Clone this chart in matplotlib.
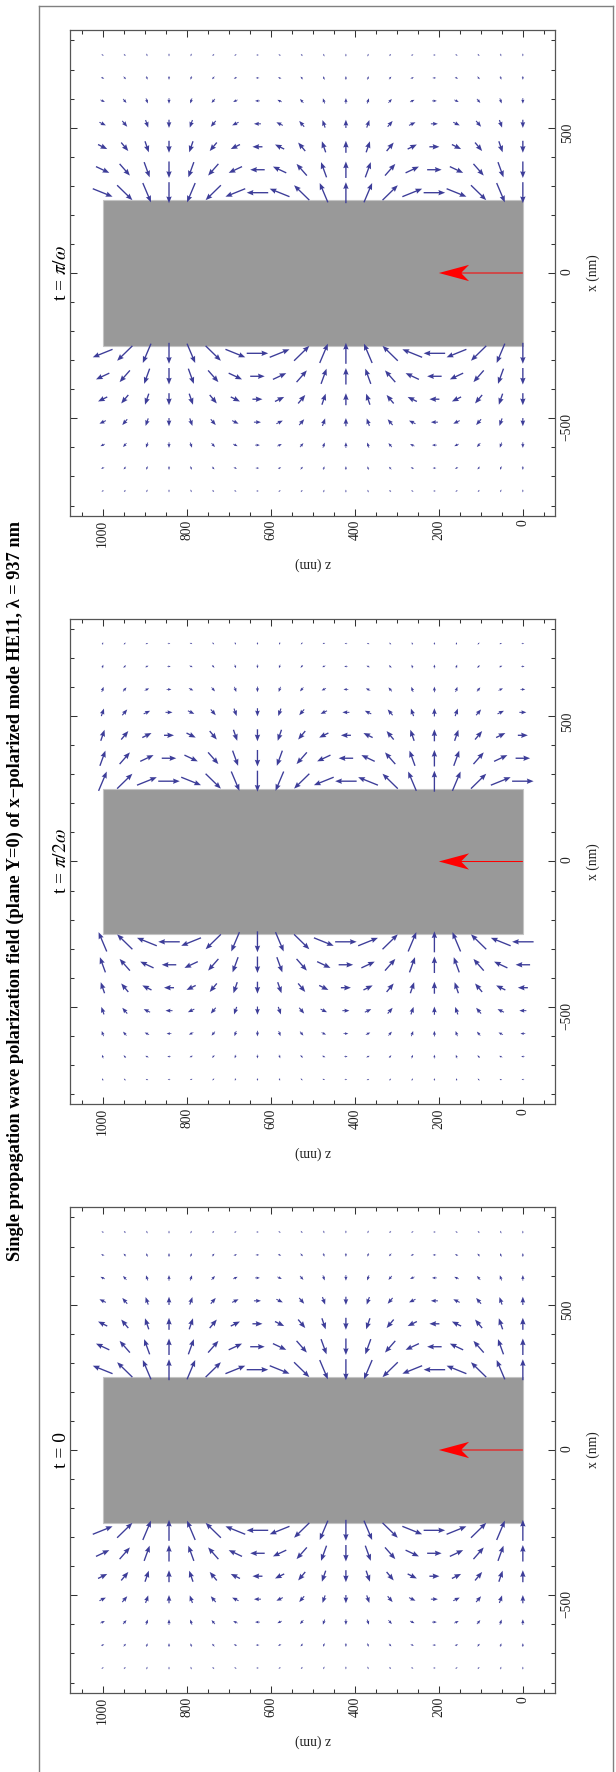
import numpy as np
import matplotlib
matplotlib.use("Agg")
import matplotlib.pyplot as plt
from matplotlib.patches import Rectangle
from matplotlib.lines import Line2D
from matplotlib.ticker import MultipleLocator

plt.rcParams['font.family'] = ['Liberation Serif', 'DejaVu Serif']
plt.rcParams['mathtext.fontset'] = 'stix'

# grid of the vector field (nm)
z_nm = [0.0, 52.6, 105.3, 157.9, 210.5, 263.2, 315.8, 368.4, 421.1, 473.7,
        526.3, 578.9, 631.6, 684.2, 736.8, 789.5, 842.1, 894.7, 947.4, 1000.0]
x_nm = [-750.0, -671.1, -592.1, -513.2, -434.2, -355.3, -276.3,
        276.3, 355.3, 434.2, 513.2, 592.1, 671.1, 750.0]

# arrow size per row (as drawn, px) for the x and z components
ex_amp = [2.8, 3.8, 5.6, 8.2, 12.0, 16.5, 21.0, 21.0, 16.5, 12.0, 8.2, 5.6, 3.8, 2.8]
ez_amp = [-2.6, -3.4, -4.8, -7.0, -10.0, -14.5, -21.5, 21.5, 14.5, 10.0, 7.0, 4.8, 3.4, 2.6]

# relative component per column, read for each time step
ex_t0 = [1.0, 0.92, 0.71, 0.38, 0.0, -0.38, -0.71, -0.92, -1.0, -0.92,
         -0.71, -0.38, 0.0, 0.38, 0.71, 0.92, 1.0, 0.92, 0.71, 0.38]
ez_t0 = [0.0, 0.38, 0.71, 0.92, 1.0, 0.92, 0.71, 0.38, 0.0, -0.38,
         -0.71, -0.92, -1.0, -0.92, -0.71, -0.38, 0.0, 0.38, 0.71, 0.92]
ex_t1 = [0.0, 0.38, 0.71, 0.92, 1.0, 0.92, 0.71, 0.38, 0.0, -0.38,
         -0.71, -0.92, -1.0, -0.92, -0.71, -0.38, 0.0, 0.38, 0.71, 0.92]
ez_t1 = [-1.0, -0.92, -0.71, -0.38, 0.0, 0.38, 0.71, 0.92, 1.0, 0.92,
         0.71, 0.38, 0.0, -0.38, -0.71, -0.92, -1.0, -0.92, -0.71, -0.38]
ex_t2 = [-1.0, -0.92, -0.71, -0.38, 0.0, 0.38, 0.71, 0.92, 1.0, 0.92,
         0.71, 0.38, 0.0, -0.38, -0.71, -0.92, -1.0, -0.92, -0.71, -0.38]
ez_t2 = [0.0, -0.38, -0.71, -0.92, -1.0, -0.92, -0.71, -0.38, 0.0, 0.38,
         0.71, 0.92, 1.0, 0.92, 0.71, 0.38, 0.0, -0.38, -0.71, -0.92]

panel_labels = [r"t = $\pi/\omega$", r"t = $\pi/2\omega$", "t = 0"]
panel_ex = [ex_t2, ex_t1, ex_t0]
panel_ez = [ez_t2, ez_t1, ez_t0]

# nanowire and propagation arrow (nm)
rod_z = (0.0, 1000.0)
rod_r = 250.0
k_start, k_len = 0.0, 200.0

title = ("Single propagation wave polarization field (plane Y=0) of "
         "x\u2212polarized mode HE11, \u03bb = 937 nm")

W, H = 616, 1772
fig = plt.figure(figsize=(W / 100, H / 100), dpi=100)

arrow_col = (0.24, 0.24, 0.6)
ax_l, ax_w, ax_h = 70.3, 484.9, 485.4
tops = [30.3, 618.8, 1207.3]

Z, X = np.meshgrid(z_nm, x_nm)
for top, lab, exc, ezc in zip(tops, panel_labels, panel_ex, panel_ez):
    ax = fig.add_axes([ax_l / W, 1 - (top + ax_h) / H, ax_w / W, ax_h / H])
    ax.set_xlim(1077, -77)
    ax.set_ylim(-835, 835)

    ax.add_patch(Rectangle((rod_z[0], -rod_r), rod_z[1] - rod_z[0], 2 * rod_r,
                           fc='#999999', ec='#c4c4c4', lw=0.8, zorder=1))

    # screen right = decreasing z
    U = -np.outer(ez_amp, ezc)
    V = np.outer(ex_amp, exc)
    ax.quiver(Z, X, U, V, angles='uv', scale_units='dots', scale=1,
              units='dots', width=1.35, headwidth=4.0, headlength=5.0,
              headaxislength=4.5, minshaft=1.4, minlength=0.05,
              pivot='middle', color=arrow_col, zorder=2)

    ax.arrow(k_start, 0, k_len, 0, width=3.5, head_width=56, head_length=72,
             overhang=0.25, length_includes_head=True, color='red', lw=0, zorder=3)

    ax.xaxis.set_major_locator(MultipleLocator(200))
    ax.xaxis.set_minor_locator(MultipleLocator(50))
    ax.yaxis.set_major_locator(MultipleLocator(500))
    ax.yaxis.set_minor_locator(MultipleLocator(100))
    ax.tick_params(which='both', direction='in', top=True, bottom=True,
                   left=True, right=True, labelleft=False, labelright=True,
                   color='#333333', width=0.75, labelsize=9.8, labelcolor='#222222')
    ax.tick_params(which='major', length=5.2)
    ax.tick_params(which='minor', length=3.0)
    ax.tick_params(axis='x', labelrotation=90, pad=2.9)
    ax.tick_params(axis='y', labelrotation=90, pad=4.0)
    for s in ax.spines.values():
        s.set_color('#555555')
        s.set_linewidth(0.9)

    ax.text(0.5, -(1741 - 1692.7) / ax_h, 'z (nm)', rotation=180, ha='center',
            va='center', fontsize=9.8, color='#222222', transform=ax.transAxes)
    ax.text((593.3 - ax_l) / ax_w, 0.5, 'x (nm)', rotation=90, ha='center',
            va='center', fontsize=9.8, color='#222222', transform=ax.transAxes)
    ax.text((62.0 - ax_l) / ax_w, 0.5, lab, rotation=90, ha='center',
            va='center', fontsize=14, transform=ax.transAxes)

fig.text(15.5 / W, 1 - 891 / H, title, rotation=90, ha='center', va='center',
         fontsize=13.2, fontweight='bold')

# outer frame
fx0, fx1, fy0 = 38.7 / W, 613.3 / W, 1 - 5.7 / H
for xs, ys in [([fx0, fx0], [fy0, 0]), ([fx0, fx1], [fy0, fy0]), ([fx1, fx1], [fy0, 0])]:
    fig.add_artist(Line2D(xs, ys, color='#808080', lw=1.0, transform=fig.transFigure))

fig.savefig('out.png', dpi=100)
